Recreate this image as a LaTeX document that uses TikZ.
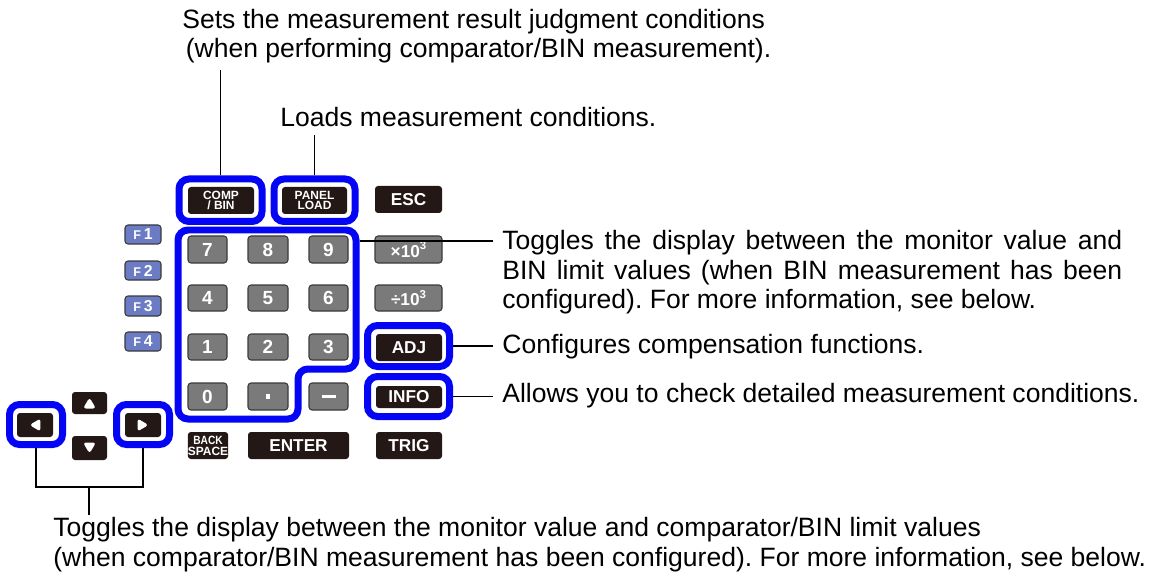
\documentclass[tikz,border=0pt]{standalone}
\usepackage{fontspec}
\setmainfont{Liberation Sans}
\newfontfamily\condfont[FakeStretch=0.85]{Liberation Sans}
\definecolor{keyblk}{HTML}{231815}
\definecolor{keygry}{HTML}{7A7A7A}
\definecolor{keyedge}{HTML}{3A3A3A}
\definecolor{keyf}{HTML}{6B7BC4}
\definecolor{frblue}{HTML}{0505F5}
\frenchspacing
\newcommand\keynode[7]{%
  \node[#6, minimum width={(#4-#2)*0.02cm}, minimum height={(#5-#3)*0.02cm}] (#1) at ({(#2+#4)/2},{(#3+#5)/2}) {#7};}
\newcommand\supthree{\raisebox{0.45em}{\fontsize{6.5}{7}\selectfont 3}}
\newcommand\fk[1]{{\fontsize{7.2}{7}\selectfont F}\,#1}
\begin{document}
\frenchspacing
\begin{tikzpicture}[x=0.02cm,y=-0.02cm,
  keycommon/.style={rounded corners=0.06cm, inner sep=0pt, outer sep=0pt, text=white, align=center},
  blk/.style={keycommon, fill=keyblk, font=\bfseries\fontsize{9.8}{10}\selectfont},
  blksmall/.style={keycommon, fill=keyblk, font=\bfseries\fontsize{6.8}{6.2}\selectfont},
  gry/.style={keycommon, fill=keygry, draw=keyedge, line width=0.6pt, font=\bfseries\fontsize{10.8}{11}\selectfont},
  grysmall/.style={gry, font=\bfseries\fontsize{9.8}{10}\selectfont},
  fkey/.style={keycommon, fill=keyf, draw=keyedge, line width=0.6pt, font=\bfseries\fontsize{9}{9}\selectfont},
  frm/.style={draw=frblue, line width=0.14cm, rounded corners=0.2cm, inner sep=0pt},
  conn/.style={line width=1.1pt, draw=black},
  lbl/.style={inner sep=0pt, font=\fontsize{15.1}{16.6}\selectfont, text=black},
  triL/.style={path picture={\fill[white] ([xshift=-0.11cm]path picture bounding box.center) -- ([xshift=0.11cm,yshift=0.13cm]path picture bounding box.center) -- ([xshift=0.11cm,yshift=-0.13cm]path picture bounding box.center) -- cycle;}},
  triR/.style={path picture={\fill[white] ([xshift=0.11cm]path picture bounding box.center) -- ([xshift=-0.11cm,yshift=0.13cm]path picture bounding box.center) -- ([xshift=-0.11cm,yshift=-0.13cm]path picture bounding box.center) -- cycle;}},
  triU/.style={path picture={\fill[white] ([yshift=0.11cm]path picture bounding box.center) -- ([xshift=0.13cm,yshift=-0.11cm]path picture bounding box.center) -- ([xshift=-0.13cm,yshift=-0.11cm]path picture bounding box.center) -- cycle;}},
  triD/.style={path picture={\fill[white] ([yshift=-0.11cm]path picture bounding box.center) -- ([xshift=0.13cm,yshift=0.11cm]path picture bounding box.center) -- ([xshift=-0.13cm,yshift=0.11cm]path picture bounding box.center) -- cycle;}}
]
\useasboundingbox (0,0) rectangle (1151,577);

% ---- blue frames ----
\keynode{compF}{179}{179}{262}{221.5}{frm}{}
\keynode{panelF}{274}{179}{355}{221.5}{frm}{}
\keynode{adjF}{367.5}{325.5}{449.5}{366.5}{frm}{}
\keynode{infoF}{367.5}{376.5}{449.5}{416.5}{frm}{}
\keynode{leftF}{9.5}{404.5}{62.5}{444.5}{frm}{}
\keynode{rightF}{116.5}{404.5}{169.5}{444.5}{frm}{}
\draw[draw=frblue, line width=0.14cm, rounded corners=0.2cm]
  (178,419) -- (178,230) -- (356,230) -- (356,369) -- (298,369) -- (298,419) -- cycle;
\coordinate (numE) at (359.5,241);

% ---- keys ----
\keynode{kcomp}{188}{187}{254}{214}{blksmall}{COMP\\/ BIN}
\keynode{kpanel}{282}{187}{347}{214}{blksmall}{PANEL\\LOAD}
\keynode{kesc}{375}{186}{442}{213}{blk}{ESC}

\keynode{kf1}{125}{225}{161}{244}{fkey}{\fk{1}}
\keynode{kf2}{125}{261}{161}{280}{fkey}{\fk{2}}
\keynode{kf3}{125}{296}{161}{316}{fkey}{\fk{3}}
\keynode{kf4}{125}{332}{161}{351}{fkey}{\fk{4}}

\keynode{k7}{188}{236}{227}{263}{gry}{7}
\keynode{k8}{248}{236}{288}{263}{gry}{8}
\keynode{k9}{309}{236}{348}{263}{gry}{9}
\keynode{kmul}{375}{236}{442}{263}{grysmall}{×10\supthree}
\keynode{k4}{188}{285}{227}{311}{gry}{4}
\keynode{k5}{248}{285}{288}{311}{gry}{5}
\keynode{k6}{309}{285}{348}{311}{gry}{6}
\keynode{kdiv}{375}{285}{442}{311}{grysmall}{÷10\supthree}
\keynode{k1}{188}{334}{227}{360}{gry}{1}
\keynode{k2}{248}{334}{288}{360}{gry}{2}
\keynode{k3}{309}{334}{348}{360}{gry}{3}
\keynode{kadj}{376}{334}{442}{361}{blk}{ADJ}
\keynode{k0}{188}{383}{227}{410}{gry}{0}
\keynode{kdot}{248}{383}{288}{410}{gry}{\rule{0.09cm}{0.09cm}}
\keynode{kminus}{309}{383}{348}{410}{gry}{\rule{0.28cm}{0.05cm}}
\keynode{kinfo}{376}{386}{442}{408}{blk}{INFO}

\keynode{kback}{188}{432}{228}{459}{blksmall}{\condfont BACK\\SPACE}
\keynode{kenter}{248}{432}{349}{459}{blk}{ENTER}
\keynode{ktrig}{376}{432}{442}{459}{blk}{TRIG}

\keynode{kup}{72}{392}{107}{414}{blk,triU}{}
\keynode{kdown}{72}{436}{107}{460}{blk,triD}{}
\keynode{kleft}{17}{413}{53}{437}{blk,triL}{}
\keynode{kright}{125}{413}{161}{437}{blk,triR}{}

% ---- texts ----
\node[lbl, anchor=base west, align=left] (tsets) at (182,58)
  {Sets the measurement result judgment conditions\\\hspace{2pt}(when performing comparator/BIN measurement).};
\node[lbl, anchor=base west] (tload) at (280,127) {Loads measurement conditions.};
\node[lbl, anchor=base west, text width=12.4cm, align=justify] (ttog) at (502,250)
  {Toggles the display between the monitor value and\linebreak BIN limit values (when BIN measurement has been\linebreak configured). For more information, see below.};
\node[lbl, anchor=base west] (tadj) at (502,353) {Configures compensation functions.};
\node[lbl, anchor=base west] (tinfo) at (502,402) {Allows you to check detailed measurement conditions.};
\node[lbl, anchor=base west, align=left] (tarrow) at (53,566)
  {Toggles the display between the monitor value and comparator/BIN limit values\\(when comparator/BIN measurement has been configured). For more information, see below.};

% ---- connectors ----
\coordinate (compTop) at (220.5,70);
\coordinate (panelTop) at (314.5,135);
\coordinate (brk) at (89,487);
\draw[conn] (compF.north) -- (compTop);
\draw[conn] (panelF.north) -- (panelTop);
\draw[conn, shorten >=0.18cm] (numE) -- (ttog.west |- numE);
\draw[conn, shorten >=0.18cm] (adjF.east) -- (tadj.west |- adjF.east);
\draw[conn, shorten >=0.18cm] (infoF.east) -- (tinfo.west |- infoF.east);
\draw[conn] (leftF.south) |- (brk) -| (rightF.south);
\draw[conn, shorten >=0.05cm] (brk) -- (tarrow.north -| brk);
\end{tikzpicture}
\end{document}
